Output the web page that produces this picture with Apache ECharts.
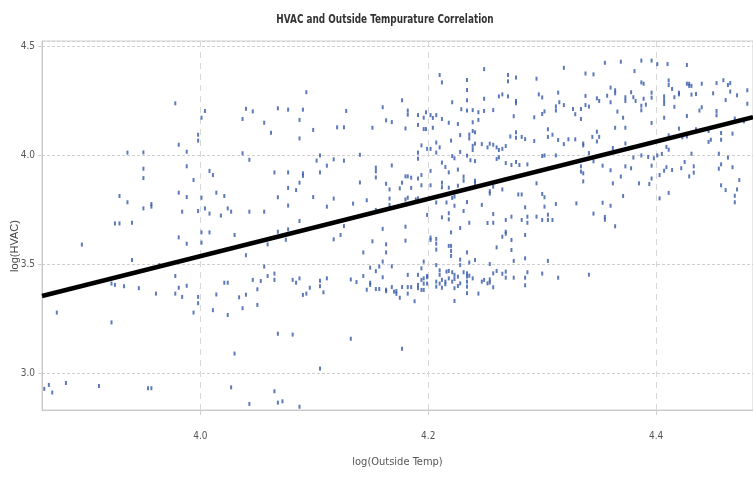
<!DOCTYPE html>
<html>
<head>
<meta charset="utf-8">
<script src="https://cdn.jsdelivr.net/npm/echarts@6/dist/echarts.min.js"></script>
<style>
  html, body { margin: 0; padding: 0; background: #fff; }
  #main { width: 753px; height: 484px; }
</style>
</head>
<body>
<div id="main"></div>
<script>
// log(Outside Temp) / log(HVAC) pairs
var logTemp = [
    // x < 4.02, upper
    3.978, 4.004, 4.001, 3.998, 3.998, 3.981, 3.988, 3.936, 3.950, 3.950, 3.950, 3.988, 3.994, 4.008, 4.011, 3.929,
    3.936, 3.957, 3.957, 3.950, 3.981, 3.988, 4.001, 4.014, 3.984, 3.998, 4.004, 4.008, 4.018, 3.925, 3.929, 3.940,
    // x < 4.02, lower
    3.896, 3.981, 3.988, 4.001, 4.008, 4.001, 3.940, 3.964, 3.922, 3.925, 3.933, 3.946, 3.961, 3.978, 3.981, 3.988,
    3.978, 3.984, 3.998, 3.998, 3.994, 4.011, 4.014, 3.874, 3.922, 3.863, 3.867, 3.870, 3.882, 3.911, 3.954, 3.957,
    // 4.02 - 4.18, upper
    4.093, 4.040, 4.046, 4.068, 4.077, 4.090, 4.128, 4.160, 4.037, 4.056, 4.087, 4.163, 4.168, 4.062, 4.099, 4.120,
    4.126, 4.151, 4.087, 4.037, 4.043, 4.105, 4.102, 4.117, 4.126, 4.140, 4.111, 4.154, 4.154, 4.168, 4.065, 4.077,
    4.090, 4.090, 4.105, 4.154, 4.087, 4.140, 4.163, 4.077, 4.084, 4.175, 4.166, 4.021, 4.068, 4.099, 4.117, 4.146,
    4.166, 4.077, 4.111, 4.134, 4.166, 4.024, 4.027, 4.043, 4.056, 4.154, 4.087,
    // 4.02 - 4.18, lower
    4.030, 4.068, 4.077, 4.075, 4.059, 4.117, 4.123, 4.126, 4.160, 4.151, 4.163, 4.163, 4.143, 4.040, 4.160, 4.056,
    4.149, 4.157, 4.168, 4.154, 4.065, 4.059, 4.143, 4.160, 4.021, 4.024, 4.046, 4.053, 4.065, 4.081, 4.084, 4.087,
    4.105, 4.105, 4.111, 4.132, 4.137, 4.149, 4.149, 4.096, 4.050, 4.108, 4.090, 4.093, 4.146, 4.154, 4.157, 4.163,
    4.163, 4.170, 4.168, 4.172, 4.172, 4.175, 4.034, 4.040, 4.037, 4.050, 4.024, 4.068, 4.081, 4.132, 4.030, 4.105,
    4.027, 4.065, 4.043, 4.068, 4.072, 4.087,
    // 4.18 - 4.33, upper
    4.249, 4.319, 4.210, 4.212, 4.234, 4.270, 4.270, 4.277, 4.295, 4.234, 4.234, 4.249, 4.262, 4.265, 4.270, 4.277,
    4.277, 4.297, 4.300, 4.314, 4.315, 4.319, 4.221, 4.177, 4.182, 4.182, 4.191, 4.196, 4.198, 4.202, 4.204, 4.207,
    4.212, 4.229, 4.234, 4.239, 4.244, 4.249, 4.257, 4.218, 4.226, 4.239, 4.244, 4.275, 4.293, 4.300, 4.302, 4.312,
    4.312, 4.327, 4.329, 4.180, 4.191, 4.196, 4.198, 4.204, 4.239, 4.241, 4.228, 4.236, 4.236, 4.277, 4.277, 4.272,
    4.282, 4.285, 4.293, 4.305, 4.305, 4.309, 4.314, 4.319, 4.323, 4.329, 4.220, 4.207, 4.194, 4.210, 4.199, 4.202,
    4.191, 4.191, 4.207, 4.228, 4.239, 4.239, 4.241, 4.247, 4.252, 4.254, 4.257, 4.260, 4.262, 4.265, 4.268, 4.234,
    4.221, 4.223, 4.237, 4.241, 4.260, 4.262, 4.268, 4.273, 4.277, 4.280, 4.287, 4.300, 4.302, 4.312, 4.212, 4.215,
    4.226, 4.218, 4.231, 4.231, 4.202, 4.202, 4.180, 4.182, 4.185, 4.191, 4.194, 4.177, 4.185, 4.194, 4.212, 4.212,
    4.218, 4.226, 4.241, 4.241, 4.257, 4.295, 4.254, 4.254, 4.265, 4.279, 4.282, 4.300, 4.302, 4.180, 4.182, 4.189,
    4.191, 4.207, 4.216, 4.221, 4.223, 4.223, 4.234, 4.247, 4.285, 4.302, 4.312, 4.330, 4.199, 4.218, 4.212, 4.218,
    4.231, 4.236, 4.252, 4.257, 4.257, 4.268, 4.273, 4.282, 4.287, 4.287, 4.295, 4.300, 4.305, 4.305, 4.309,
    // 4.18 - 4.33, lower
    4.180, 4.180, 4.202, 4.202, 4.207, 4.207, 4.207, 4.220, 4.228, 4.218, 4.220, 4.220, 4.220, 4.234, 4.228, 4.228,
    4.236, 4.241, 4.254, 4.265, 4.268, 4.268, 4.273, 4.260, 4.273, 4.275, 4.285, 4.285, 4.305, 4.207, 4.196, 4.194,
    4.182, 4.191, 4.199, 4.210, 4.210, 4.216, 4.218, 4.221, 4.223, 4.226, 4.231, 4.234, 4.234, 4.236, 4.239, 4.177,
    4.182, 4.185, 4.182, 4.188, 4.191, 4.191, 4.194, 4.194, 4.196, 4.196, 4.196, 4.199, 4.199, 4.207, 4.207, 4.210,
    4.212, 4.212, 4.215, 4.215, 4.218, 4.221, 4.223, 4.223, 4.226, 4.228, 4.223, 4.234, 4.234, 4.234, 4.244, 4.247,
    4.249, 4.252, 4.254, 4.254, 4.257, 4.257, 4.260, 4.265, 4.268, 4.268, 4.275, 4.285, 4.285, 4.287, 4.300, 4.314,
    4.177,
    // x > 4.33
    4.355, 4.369, 4.387, 4.396, 4.401, 4.410, 4.427, 4.381, 4.338, 4.345, 4.387, 4.389, 4.411, 4.411, 4.427, 4.429,
    4.429, 4.431, 4.440, 4.453, 4.459, 4.463, 4.465, 4.360, 4.364, 4.364, 4.378, 4.396, 4.396, 4.414, 4.420, 4.420,
    4.435, 4.431, 4.450, 4.465, 4.471, 4.480, 4.338, 4.357, 4.348, 4.350, 4.360, 4.373, 4.373, 4.380, 4.382, 4.389,
    4.387, 4.387, 4.391, 4.407, 4.407, 4.407, 4.416, 4.416, 4.461, 4.480, 4.338, 4.341, 4.334, 4.440, 4.438, 4.453,
    4.453, 4.366, 4.371, 4.334, 4.407, 4.427, 4.469, 4.477, 4.396, 4.364, 4.373, 4.420, 4.435, 4.446, 4.457, 4.467,
    4.348, 4.344, 4.350, 4.348, 4.336, 4.336, 4.362, 4.373, 4.411, 4.423, 4.427, 4.448, 4.446, 4.457, 4.409, 4.411,
    4.341, 4.345, 4.380, 4.387, 4.393, 4.398, 4.401, 4.405, 4.431, 4.455, 4.463, 4.334, 4.353, 4.373, 4.378, 4.396,
    4.425, 4.433, 4.433, 4.409, 4.414, 4.407, 4.422, 4.457, 4.455, 4.467, 4.334, 4.336, 4.336, 4.360, 4.369, 4.396,
    4.403, 4.429, 4.362, 4.385, 4.394, 4.457, 4.461, 4.471, 4.473, 4.371, 4.411, 4.403, 4.469, 4.469, 4.353, 4.360,
    4.345, 4.355, 4.355, 4.364, 4.341
];
var logHvac = [
    // x < 4.02, upper
    4.237, 4.202, 4.171, 4.093, 4.066, 4.047, 4.015, 4.011, 4.012, 3.937, 3.894, 3.948, 3.885, 3.927, 3.908, 3.812,
    3.783, 3.775, 3.763, 3.755, 3.827, 3.807, 3.804, 3.827, 3.740, 3.743, 3.755, 3.731, 3.722, 3.686, 3.686, 3.689,
    // x < 4.02, lower
    3.589, 3.622, 3.593, 3.645, 3.645, 3.598, 3.518, 3.495, 3.410, 3.404, 3.398, 3.389, 3.364, 3.445, 3.391, 3.400,
    3.364, 3.349, 3.349, 3.320, 3.277, 3.288, 3.360, 3.277, 3.232, 2.927, 2.945, 2.910, 2.954, 2.940, 2.930, 2.930,
    // 4.02 - 4.18, upper
    4.288, 4.212, 4.200, 4.214, 4.208, 4.208, 4.202, 4.219, 4.165, 4.148, 4.161, 4.159, 4.151, 4.102, 4.115, 4.127,
    4.127, 4.125, 4.076, 4.008, 3.978, 3.998, 3.974, 3.980, 3.974, 4.001, 3.951, 3.942, 3.925, 3.952, 3.920, 3.920,
    3.916, 3.904, 3.920, 3.897, 3.873, 3.874, 3.868, 3.849, 3.839, 3.847, 3.842, 3.812, 3.806, 3.807, 3.800, 3.792,
    3.800, 3.768, 3.763, 3.777, 3.771, 3.755, 3.740, 3.740, 3.740, 3.748, 3.697,
    // 4.02 - 4.18, lower
    3.633, 3.648, 3.659, 3.611, 3.590, 3.613, 3.633, 3.674, 3.661, 3.604, 3.590, 3.553, 3.553, 3.540, 3.511, 3.488,
    3.483, 3.488, 3.489, 3.467, 3.456, 3.445, 3.445, 3.439, 3.414, 3.414, 3.427, 3.422, 3.427, 3.427, 3.414, 3.434,
    3.423, 3.398, 3.434, 3.429, 3.417, 3.414, 3.404, 3.391, 3.384, 3.370, 3.358, 3.364, 3.382, 3.385, 3.385, 3.382,
    3.375, 3.373, 3.394, 3.376, 3.363, 3.345, 3.347, 3.359, 3.297, 3.312, 3.266, 3.180, 3.176, 3.157, 3.089, 3.020,
    2.934, 2.916, 2.858, 2.864, 2.870, 2.845,
    // 4.18 - 4.33, upper
    4.394, 4.400, 4.367, 4.333, 4.344, 4.367, 4.338, 4.355, 4.350, 4.298, 4.251, 4.258, 4.269, 4.278, 4.269, 4.248,
    4.237, 4.278, 4.264, 4.286, 4.242, 4.229, 4.242, 4.251, 4.204, 4.185, 4.183, 4.171, 4.196, 4.183, 4.170, 4.183,
    4.165, 4.210, 4.204, 4.206, 4.196, 4.202, 4.206, 4.148, 4.142, 4.150, 4.161, 4.178, 4.173, 4.188, 4.200, 4.223,
    4.204, 4.211, 4.187, 4.122, 4.138, 4.119, 4.119, 4.125, 4.110, 4.104, 4.091, 4.094, 4.076, 4.104, 4.079, 4.085,
    4.083, 4.073, 4.064, 4.118, 4.083, 4.093, 4.069, 4.050, 4.072, 4.072, 4.066, 4.057, 4.044, 4.035, 4.028, 4.028,
    4.011, 3.983, 4.011, 4.014, 4.042, 4.023, 4.052, 4.050, 4.035, 4.052, 4.047, 4.035, 4.023, 4.028, 4.041, 3.997,
    3.995, 3.985, 3.976, 3.972, 3.982, 3.989, 3.963, 3.954, 3.968, 3.954, 3.957, 3.995, 3.998, 3.998, 3.965, 3.945,
    3.933, 3.920, 3.901, 3.882, 3.927, 3.861, 3.902, 3.902, 3.896, 3.892, 3.908, 3.873, 3.849, 3.861, 3.873, 3.852,
    3.850, 3.859, 3.882, 3.870, 3.855, 3.870, 3.834, 3.823, 3.842, 3.819, 3.819, 3.821, 3.806, 3.796, 3.804, 3.796,
    3.801, 3.782, 3.782, 3.803, 3.809, 3.767, 3.784, 3.771, 3.760, 3.763, 3.775, 3.778, 3.725, 3.733, 3.714, 3.705,
    3.743, 3.689, 3.688, 3.729, 3.689, 3.702, 3.717, 3.702, 3.717, 3.689, 3.717, 3.702, 3.726, 3.702, 3.702,
    // 4.18 - 4.33, lower
    3.671, 3.607, 3.621, 3.610, 3.615, 3.593, 3.566, 3.645, 3.665, 3.583, 3.583, 3.560, 3.537, 3.553, 3.520, 3.495,
    3.507, 3.518, 3.500, 3.625, 3.648, 3.639, 3.610, 3.576, 3.564, 3.514, 3.633, 3.526, 3.514, 3.495, 3.511, 3.480,
    3.450, 3.450, 3.445, 3.471, 3.450, 3.465, 3.468, 3.462, 3.450, 3.442, 3.462, 3.457, 3.442, 3.446, 3.434, 3.394,
    3.394, 3.394, 3.364, 3.329, 3.404, 3.389, 3.427, 3.381, 3.434, 3.410, 3.381, 3.410, 3.439, 3.419, 3.396, 3.410,
    3.427, 3.391, 3.419, 3.407, 3.434, 3.419, 3.431, 3.389, 3.399, 3.411, 3.330, 3.419, 3.396, 3.366, 3.364, 3.419,
    3.427, 3.411, 3.429, 3.415, 3.393, 3.457, 3.468, 3.455, 3.465, 3.437, 3.437, 3.437, 3.402, 3.462, 3.456, 3.437,
    3.111,
    // x > 4.33
    4.423, 4.428, 4.433, 4.433, 4.417, 4.417, 4.413, 4.385, 4.374, 4.370, 4.333, 4.327, 4.342, 4.321, 4.327, 4.327,
    4.317, 4.317, 4.327, 4.330, 4.343, 4.321, 4.330, 4.309, 4.297, 4.283, 4.288, 4.286, 4.263, 4.303, 4.286, 4.278,
    4.280, 4.277, 4.283, 4.291, 4.274, 4.297, 4.271, 4.272, 4.260, 4.248, 4.242, 4.265, 4.248, 4.265, 4.248, 4.258,
    4.226, 4.205, 4.231, 4.269, 4.251, 4.234, 4.265, 4.221, 4.252, 4.235, 4.229, 4.222, 4.211, 4.219, 4.204, 4.202,
    4.182, 4.199, 4.171, 4.165, 4.171, 4.179, 4.167, 4.154, 4.147, 4.125, 4.125, 4.121, 4.118, 4.110, 4.101, 4.098,
    4.107, 4.083, 4.083, 4.062, 4.053, 4.044, 4.032, 4.053, 4.090, 4.081, 4.085, 4.070, 4.060, 4.070, 4.037, 4.024,
    4.009, 3.971, 3.988, 3.998, 3.991, 3.985, 3.998, 4.005, 4.006, 4.006, 3.988, 3.948, 3.951, 3.948, 3.939, 3.951,
    3.968, 3.948, 3.919, 3.944, 3.931, 3.928, 3.939, 3.957, 3.937, 3.944, 3.924, 3.916, 3.879, 3.930, 3.901, 3.892,
    3.908, 3.902, 3.870, 3.870, 3.867, 3.861, 3.839, 3.842, 3.885, 3.812, 3.826, 3.801, 3.813, 3.783, 3.781, 3.767,
    3.731, 3.716, 3.703, 3.673, 3.451
];
// regression line end points
var fitTemp = [3.861, 4.485];
var fitHvac = [3.353, 4.174];

var myChart = echarts.init(document.getElementById("main"));

var points = logTemp.map(function (x, i) {
    return [x, logHvac[i]];
});
var fitLine = fitTemp.map(function (x, i) {
    return [x, fitHvac[i]];
});

var narrow = "'Liberation Sans Narrow', 'DejaVu Sans Condensed', sans-serif";

var option = {
    backgroundColor: "#fff",
    animation: false,
    graphic: [
        {
            // title, squeezed to the narrow face of the original
            type: "text",
            x: 385,
            y: 20,
            scaleX: 0.76,
            style: {
                text: "HVAC and Outside Tempurature Correlation",
                font: "bold 13px 'DejaVu Sans Condensed', sans-serif",
                fill: "#333",
                align: "center",
                verticalAlign: "middle",
            },
        },
        {
            type: "text",
            x: 15,
            y: 246,
            rotation: Math.PI / 2,
            style: {
                text: "log(HVAC)",
                font: "11px 'Liberation Sans', sans-serif",
                fill: "#444",
                align: "center",
                verticalAlign: "middle",
            },
        },
    ],
    grid: {
        left: 42,
        right: -1,
        top: 41,
        bottom: 74,
        show: true,
        borderColor: "#d0d0d0",
        borderWidth: 1,
    },
    xAxis: {
        type: "value",
        min: 3.861,
        max: 4.485,
        splitNumber: 3,
        name: "log(Outside Temp)",
        nameLocation: "middle",
        nameGap: 47,
        nameTextStyle: {
            fontFamily: narrow,
            fontSize: 11,
            color: "#555",
        },
        axisLine: { show: true, lineStyle: { color: "#c8c8c8" } },
        axisTick: { show: true, length: 5, lineStyle: { color: "#d0d0d0" } },
        axisLabel: {
            showMinLabel: false,
            showMaxLabel: false,
            margin: 21,
            fontFamily: narrow,
            fontSize: 10,
            color: "#555",
            formatter: function (v) {
                return v.toFixed(1);
            },
        },
        splitLine: {
            show: true,
            lineStyle: { color: "#d8d8d8", type: [6, 5], width: 1 },
        },
    },
    yAxis: {
        type: "value",
        min: 2.83,
        max: 4.523,
        splitNumber: 3,
        axisLine: { show: true, lineStyle: { color: "#c8c8c8" } },
        axisTick: { show: true, length: 4, lineStyle: { color: "#d0d0d0" } },
        axisLabel: {
            showMinLabel: false,
            showMaxLabel: false,
            margin: 7,
            fontFamily: narrow,
            fontSize: 10,
            color: "#555",
            formatter: function (v) {
                return v.toFixed(1);
            },
        },
        splitLine: {
            show: true,
            lineStyle: { color: "#cfcfcf", type: [3, 2], width: 1 },
        },
    },
    series: [
        {
            type: "scatter",
            data: points,
            symbol: "rect",
            symbolSize: [2, 4],
            itemStyle: {
                color: "#3358a8",
            },
            z: 2,
        },
        {
            type: "line",
            data: fitLine,
            symbol: "none",
            lineStyle: {
                color: "#000",
                width: 4.5,
            },
            z: 3,
        },
    ],
};
myChart.setOption(option);
</script>
</body>
</html>
